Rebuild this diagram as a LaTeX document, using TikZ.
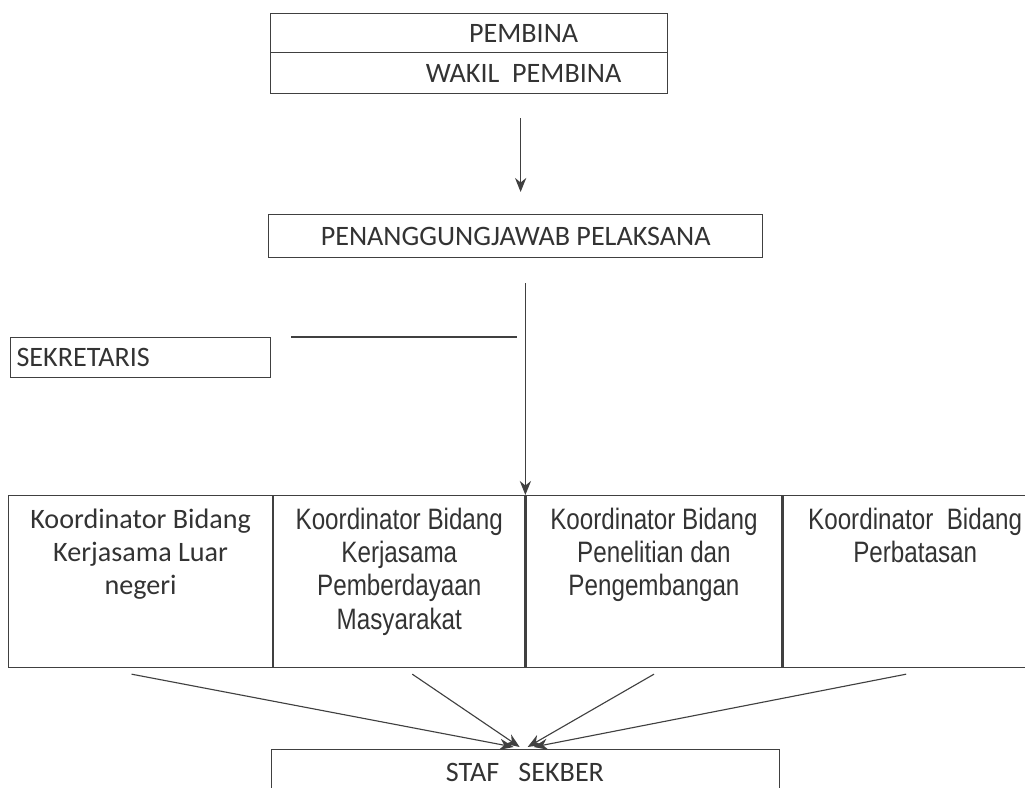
\documentclass[tikz,border=0pt]{standalone}
\usepackage{fontspec}
\setmainfont{Carlito}
\newfontfamily\narrowfont[FakeStretch=0.82]{Liberation Sans}
\usetikzlibrary{positioning, arrows.meta}

\begin{document}
\begin{tikzpicture}[x=0.025cm, y=-0.025cm,
    box/.style={draw=black!75, line width=0.8pt, inner sep=0pt, text=black!80, font=\fontsize{20}{24}\selectfont},
    lbl/.style={text=black!80, font=\fontsize{20}{24}\selectfont, inner sep=0pt},
    korbox/.style={box, anchor=north west, minimum height=4.3cm},
    kortext/.style={anchor=north, align=center, inner sep=0pt, text=black!80},
    link/.style={draw=black!75, line width=0.8pt},
    arr/.style={link, -{Stealth[length=10pt, width=8pt]}}]
    \useasboundingbox (0,0) rectangle (1025,788);
    \clip (0,0) rectangle (1025,788);
    % top
    \node[box, anchor=north west, minimum width=9.925cm, minimum height=0.975cm] (pembina) at (270,13) {};
    \node[box, anchor=north west, minimum width=9.925cm, minimum height=1.025cm] (wakil) at (270,52) {};
    \node[box, anchor=north west, minimum width=12.35cm, minimum height=1.075cm] (pj) at (268,214) {PENANGGUNGJAWAB PELAKSANA};
    \node[lbl] (pembinatext) at ([xshift=0.2cm]pembina.center -| pj.north) {PEMBINA};
    \node[lbl] (wakiltext) at ([xshift=0.2cm]wakil.center -| pj.north) {WAKIL~ PEMBINA};
    \node[box, anchor=north west, minimum width=6.5cm, minimum height=1cm, text width=6.2cm, inner xsep=0.15cm, align=left] (sekretaris) at (10,337) {SEKRETARIS};
    % koordinator
    \node[korbox, minimum width=6.6cm] (kor1) at (8,495) {};
    \node[korbox, minimum width=6.275cm] (kor2) at (kor1.north east) {};
    \node[korbox, minimum width=6.4cm] (kor3) at (kor2.north east) {};
    \node[korbox, minimum width=6.6cm] (kor4) at (kor3.north east) {};
    \node[kortext, font=\fontsize{20}{23.5}\selectfont] (kor1text) at ([yshift=-0.33cm]kor1.north) {Koordinator Bidang\\Kerjasama Luar\\negeri};
    \node[kortext, font=\narrowfont\fontsize{21}{23.5}\selectfont] (kor2text) at ([yshift=-0.33cm]kor2.north) {Koordinator Bidang\\Kerjasama\\Pemberdayaan\\Masyarakat};
    \node[kortext, font=\narrowfont\fontsize{21}{23.5}\selectfont] (kor3text) at ([yshift=-0.33cm]kor3.north) {Koordinator Bidang\\Penelitian dan\\Pengembangan};
    \node[kortext, font=\narrowfont\fontsize{21}{23.5}\selectfont] (kor4text) at ([yshift=-0.33cm]kor4.north) {Koordinator~ Bidang\\Perbatasan};
    % staf
    \node[box, anchor=north west, minimum width=12.7cm, minimum height=1.25cm] (staf) at (271,749) {};
    \node[lbl] (staftext) at (525,772) {STAF~~~SEKBER};
    % connectors
    \draw[arr, shorten <=0.6cm, shorten >=0.55cm] ([xshift=0.125cm]wakil.south -| pj.north) -- ([xshift=0.125cm]pj.north);
    \draw[arr, shorten <=0.625cm] (pj.south -| kor2.north east) -- (kor2.north east);
    \draw[link, shorten <=0.5cm, shorten >=0.2cm] (sekretaris.north east) -- (sekretaris.north east -| kor2.north east);
    \draw[arr] ([shift={(-9,6)}]kor1.south) -- ([shift={(-12,-2)}]staf.north);
    \draw[arr] ([shift={(13,6)}]kor2.south) -- ([shift={(-6,-2)}]staf.north);
    \draw[arr] ([shift={(0,6)}]kor3.south) -- ([shift={(2,-2)}]staf.north);
    \draw[arr] ([shift={(-9,6)}]kor4.south) -- ([shift={(8,-2)}]staf.north);
\end{tikzpicture}
\end{document}
